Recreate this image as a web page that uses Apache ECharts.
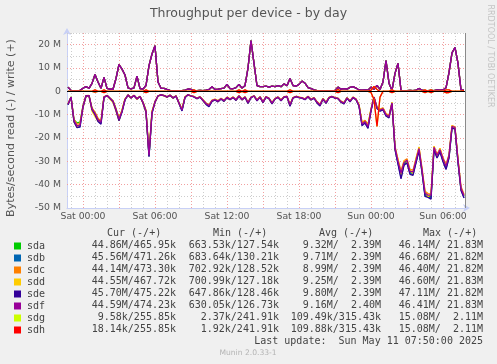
<!DOCTYPE html>
<html><head><meta charset="utf-8">
<script src="https://cdn.jsdelivr.net/npm/echarts@6/dist/echarts.min.js"></script>
<style>html,body{margin:0;padding:0;background:#F0F0F0}#c{width:497px;height:364px}</style>
</head><body><div id="c"></div>
<script>
const disks = ['sda','sdb','sdc','sdd','sde','sdf','sdg','sdh'];
const colors = ['#00CC00','#0066B3','#FF8000','#FFCC00','#330099','#990099','#CCFF00','#FF0000'];
const xTickHours = [0,6,12,18,24,30];
const xTickLabels = ['Sat 00:00','Sat 06:00','Sat 12:00','Sat 18:00','Sun 00:00','Sun 06:00'];
const yTickStep = 10;

// sample times: hours relative to Sat 00:00, one sample every 15 minutes
const hours = [];
for (let i = 0; i < 133; i++) hours.push(-1.25 + 0.25 * i);

// read throughput (MB/s, negative) per disk
const sdaRead = [-5.6,-2.4,-12.2,-13.5,-13.2,-6.2,-2.0,-1.8,-7.3,-9.2,
-11.8,-12.9,-2.5,-1.8,-3.0,-4.1,-7.6,-11.7,-8.3,-3.4,
-1.6,-2.8,-1.8,-3.1,-2.2,-4.7,-8.3,-27.8,-8.8,-4.4,
-2.0,-1.5,-1.8,-2.4,-1.7,-2.8,-2.0,-4.9,-7.8,-2.5,
-1.5,-2.0,-2.3,-3.0,-2.4,-3.8,-5.1,-5.9,-4.0,-3.5,
-4.1,-3.2,-4.0,-2.6,-3.4,-2.5,-3.6,-2.0,-3.4,-2.4,
-4.7,-2.6,-2.0,-3.7,-2.4,-4.5,-2.4,-3.0,-4.9,-3.2,
-2.5,-3.7,-2.4,-2.2,-5.7,-2.8,-2.2,-2.6,-2.8,-3.3,
-2.2,-3.5,-2.8,-4.5,-5.7,-3.2,-4.7,-2.7,-2.2,-2.8,
-3.0,-4.3,-4.9,-2.8,-4.1,-2.6,-3.4,-5.9,-13.6,-12.6,
-14.5,-7.8,-2.5,-6.8,-7.8,-7.3,-9.8,-10.6,-4.9,-24.3,
-30.4,-35.8,-31.0,-30.0,-34.9,-35.1,-30.0,-24.9,-34.0,-44.2,
-45.0,-45.2,-24.4,-27.9,-25.4,-29.5,-32.5,-28.0,-15.3,-15.8,
-30.0,-42.0,-44.86];
const sdbRead = [-5.6,-2.5,-12.9,-15.3,-15.0,-6.7,-2.0,-1.8,-7.8,-9.9,
-12.7,-13.8,-2.6,-1.8,-3.1,-4.3,-8.1,-12.4,-8.8,-3.6,
-1.6,-2.9,-1.8,-3.3,-2.2,-5.0,-8.8,-27.8,-9.3,-4.6,
-2.0,-1.5,-1.8,-2.5,-1.7,-2.9,-2.0,-5.1,-8.3,-2.6,
-1.5,-2.0,-2.4,-3.1,-2.5,-4.0,-5.5,-6.4,-4.2,-3.7,
-4.4,-3.3,-4.2,-2.7,-3.5,-2.6,-3.8,-2.1,-3.6,-2.5,
-5.1,-2.7,-2.0,-4.0,-2.5,-4.8,-2.5,-3.1,-5.3,-3.3,
-2.6,-4.0,-2.5,-2.3,-6.2,-2.9,-2.3,-2.7,-2.9,-3.5,
-2.3,-3.7,-2.9,-4.9,-6.1,-3.3,-5.1,-2.8,-2.3,-2.9,
-3.1,-4.6,-5.3,-2.9,-4.4,-2.7,-3.5,-6.2,-14.5,-13.5,
-15.7,-8.3,-2.6,-7.3,-8.4,-7.9,-10.5,-11.2,-5.2,-24.8,
-30.9,-37.0,-31.4,-30.4,-35.3,-35.7,-30.4,-25.3,-34.5,-44.7,
-45.3,-45.9,-24.8,-28.3,-25.8,-29.9,-33.2,-28.4,-15.6,-16.1,
-30.3,-42.2,-45.56];
const sdcRead = [-5.3,-2.4,-12.0,-14.0,-13.8,-6.1,-1.9,-1.7,-7.1,-9.0,
-11.6,-12.6,-2.4,-1.7,-2.9,-4.0,-7.4,-11.4,-8.1,-3.3,
-1.5,-2.7,-1.7,-3.0,-2.1,-4.6,-8.1,-26.8,-8.6,-4.3,
-1.9,-1.4,-1.7,-2.3,-1.6,-2.7,-1.9,-4.8,-7.6,-2.4,
-1.4,-1.9,-2.2,-2.9,-2.3,-3.6,-5.0,-5.7,-3.8,-3.3,
-4.0,-3.0,-3.8,-2.5,-3.2,-2.4,-3.4,-1.9,-3.3,-2.3,
-4.6,-2.5,-1.9,-3.6,-2.3,-4.4,-2.3,-2.9,-4.8,-3.0,
-2.4,-3.6,-2.3,-2.1,-5.5,-2.7,-2.1,-2.5,-2.7,-3.2,
-2.1,-3.3,-2.7,-4.4,-5.5,-3.0,-4.6,-2.6,-2.1,-2.7,
-2.9,-4.2,-4.8,-2.7,-4.0,-2.5,-3.2,-5.7,-13.3,-12.4,
-14.2,-7.6,-2.4,-6.7,-7.6,-7.1,-9.5,-10.3,-4.8,-23.5,
-29.2,-34.0,-29.8,-28.9,-33.5,-33.8,-28.9,-24.0,-32.8,-42.8,
-43.8,-44.0,-23.5,-27.0,-24.5,-28.4,-31.4,-27.0,-14.7,-15.2,
-29.0,-40.8,-44.14];
const sddRead = [-5.2,-2.7,-13.0,-15.2,-14.0,-7.0,-2.2,-2.0,-8.5,-10.8,
-12.8,-13.0,-2.3,-1.9,-3.3,-4.8,-8.5,-12.6,-8.0,-3.2,
-1.7,-3.0,-1.7,-3.5,-2.1,-5.2,-9.0,-26.0,-8.5,-4.8,
-2.1,-1.6,-1.9,-2.6,-1.6,-3.0,-1.9,-5.3,-7.6,-2.3,
-1.6,-2.1,-2.2,-3.2,-2.3,-4.0,-5.6,-5.8,-4.3,-3.4,
-4.5,-3.1,-4.3,-2.5,-3.6,-2.4,-3.8,-2.1,-3.7,-2.3,
-5.1,-2.5,-2.1,-4.0,-2.3,-4.9,-2.3,-3.2,-5.3,-3.1,
-2.6,-4.0,-2.3,-2.3,-6.2,-2.7,-2.3,-2.5,-2.9,-3.3,
-2.3,-3.7,-2.7,-4.9,-6.1,-3.1,-5.1,-2.6,-2.3,-2.7,
-3.1,-4.6,-5.3,-2.7,-4.4,-2.5,-3.6,-5.6,-13.5,-13.6,
-14.6,-7.5,-2.6,-7.4,-7.6,-7.9,-9.6,-11.3,-4.7,-24.8,
-29.2,-35.8,-29.8,-30.4,-33.6,-35.3,-28.8,-23.8,-34.2,-42.8,
-45.2,-44.0,-23.5,-28.2,-24.4,-29.6,-31.5,-28.1,-14.6,-15.9,
-29.0,-42.0,-44.55];
const sdeRead = [-5.7,-2.5,-13.1,-15.6,-15.3,-6.8,-2.0,-1.8,-7.9,-10.0,
-12.9,-14.1,-2.6,-1.8,-3.1,-4.4,-8.2,-12.6,-8.9,-3.6,
-1.6,-2.9,-1.8,-3.3,-2.2,-5.0,-8.9,-28.0,-9.4,-4.7,
-2.0,-1.5,-1.8,-2.5,-1.7,-2.9,-2.0,-5.2,-8.4,-2.6,
-1.5,-2.0,-2.4,-3.2,-2.5,-4.0,-5.6,-6.6,-4.3,-3.7,
-4.5,-3.3,-4.3,-2.7,-3.6,-2.6,-3.9,-2.1,-3.7,-2.5,
-5.2,-2.7,-2.0,-4.1,-2.5,-4.9,-2.5,-3.1,-5.4,-3.3,
-2.6,-4.1,-2.5,-2.3,-6.4,-2.9,-2.3,-2.7,-2.9,-3.6,
-2.3,-3.7,-2.9,-5.0,-6.3,-3.3,-5.2,-2.8,-2.3,-2.9,
-3.1,-4.7,-5.4,-2.9,-4.5,-2.7,-3.6,-6.3,-14.7,-13.6,
-15.9,-8.4,-2.6,-7.4,-8.5,-8.0,-10.6,-11.4,-5.2,-25.0,
-31.2,-37.5,-31.7,-30.7,-35.6,-36.0,-30.7,-25.5,-34.8,-45.0,
-45.5,-46.2,-25.0,-28.6,-26.0,-30.2,-33.5,-28.6,-15.7,-16.2,
-30.5,-42.5,-45.70];
const sdfRead = [-5.5,-2.5,-12.5,-14.8,-14.5,-6.5,-2.0,-1.8,-7.5,-9.5,
-12.2,-13.2,-2.5,-1.8,-3.0,-4.2,-7.8,-12.0,-8.5,-3.5,
-1.6,-2.8,-1.8,-3.2,-2.2,-4.8,-8.5,-27.5,-9.0,-4.5,
-2.0,-1.5,-1.8,-2.4,-1.7,-2.8,-2.0,-5.0,-8.0,-2.5,
-1.5,-2.0,-2.3,-3.0,-2.4,-3.8,-5.2,-6.0,-4.0,-3.5,
-4.2,-3.2,-4.0,-2.6,-3.4,-2.5,-3.6,-2.0,-3.5,-2.4,
-4.8,-2.6,-2.0,-3.8,-2.4,-4.6,-2.4,-3.0,-5.0,-3.2,
-2.5,-3.8,-2.4,-2.2,-5.8,-2.8,-2.2,-2.6,-2.8,-3.4,
-2.2,-3.5,-2.8,-4.6,-5.8,-3.2,-4.8,-2.7,-2.2,-2.8,
-3.0,-4.4,-5.0,-2.8,-4.2,-2.6,-3.4,-6.0,-14.0,-13.0,
-15.0,-8.0,-2.5,-7.0,-8.0,-7.5,-10.0,-10.8,-5.0,-24.0,
-30.0,-35.0,-30.5,-29.5,-34.3,-34.5,-29.5,-24.5,-33.5,-43.6,
-44.5,-44.5,-24.0,-27.5,-25.0,-29.0,-32.0,-27.5,-15.0,-15.5,
-29.5,-41.5,-44.59];
const sdgRead = [0,0,0,0,0,0,0,0,0,-0.3,
0,0,-0.6,0,0,0,0,0,0,0,
0,0,0,0,0,0,-0.6,0,0,0,
0,0,0,0,0,0,0,0,0,0,
0,0,-0.6,0,0,0,0,0,0,0,
0,0,0,0,0,0,0,-0.6,0,-0.6,
0,0,0,0,0,0,0,0,0,0,
0,0,0,0,-0.6,0,0,0,0,0,
0,0,0,0,0,0,0,0,0,0,
-0.6,0,0,0,0,0,0,0,0,0,
0,-0.5,-3.5,-15.0,-2.5,0,0,0,-0.6,0,
0,0,0,0,0,0,0,0,0,-0.6,
0,-0.6,0,0,0,0,-0.6,-0.5,0,0,
0,0,-0.01];
const sdhRead = [0,0,0,0,0,0,0,0,0,-0.3,
0,0,-0.6,0,0,0,0,0,0,0,
0,0,0,0,0,0,-0.6,0,0,0,
0,0,0,0,0,0,0,0,0,0,
0,0,-0.6,0,0,0,0,0,0,0,
0,0,0,0,0,0,0,-0.6,0,-0.6,
0,0,0,0,0,0,0,0,0,0,
0,0,0,0,-0.6,0,0,0,0,0,
0,0,0,0,0,0,0,0,0,0,
-0.6,0,0,0,0,0,0,0,0,0,
0,-0.5,-3.5,-15.0,-2.5,0,0,0,-0.6,0,
0,0,0,0,0,0,0,0,0,-0.6,
0,-0.6,0,0,0,0,-0.6,-0.5,0,0,
0,0,-0.02];

// write throughput (MB/s, positive); sda..sdf overlap within a pixel
const diskWrite = [1.8,0.4,0.3,0.3,0.4,1.3,2.0,1.3,3.4,7.2,
4.0,1.3,6.0,1.3,0.9,0.9,5.5,11.5,9.5,7.0,
1.5,1.0,1.5,6.5,1.2,1.0,2.5,11.0,16.0,19.5,
4.0,1.3,1.3,0.8,0.4,0.3,0.3,0.3,0.3,0.5,
1.0,0.8,0.4,0.3,0.4,0.3,0.5,0.8,2.0,0.8,
0.9,1.2,1.4,3.0,1.2,1.1,1.6,3.0,1.4,2.4,
10.0,21.8,12.0,2.4,2.0,2.0,2.2,1.8,2.2,2.0,
2.4,2.0,3.2,2.4,5.5,2.5,2.2,3.0,4.4,3.5,
1.6,1.2,0.6,0.3,0.3,0.3,0.3,0.3,0.3,0.4,
1.8,0.9,1.2,0.9,1.7,2.0,1.4,0.6,0.5,0.6,
0.5,1.8,0.8,2.6,0.8,4.0,13.2,3.5,0.4,7.7,
12.0,0.4,0.3,0.3,0.4,0.3,0.5,1.2,0.5,0.3,
0.3,0.4,0.3,0.6,0.5,0.6,1.5,8.0,16.5,18.8,
12.0,0.6,0.47];
const sdgWrite = [0,0,0,0,0,0,0,0,0,0.6,
0,0,0.6,0,0,0,0,0,0,0,
0,0,0,0,0,0,0.6,0,0,0,
0,0,0,0,0,0,0,0,0,0,
0,0,0.6,0,0,0,0,0,0,0,
0,0,0,0,0,0,0,0.6,0,0.6,
0,0,0,0,0,0,0,0,0,0,
0,0,0,0,0.7,0,0,0,0,0,
0,0,0,0,0,0,0,0,0,0,
0.8,0,0,0,0,0,0,0,0,0,
0,0.5,2.1,0.8,0,0,0,0,0.7,0,
0,0,0,0,0,0,0,0,0,0.6,
0,0.6,0,0,0,0,0.6,0.6,0,0,
0,0,0.26];
const sdhWrite = [0,0,0,0,0,0,0,0,0,0.6,
0,0,0.6,0,0,0,0,0,0,0,
0,0,0,0,0,0,0.6,0,0,0,
0,0,0,0,0,0,0,0,0,0,
0,0,0.6,0,0,0,0,0,0,0,
0,0,0,0,0,0,0,0.6,0,0.6,
0,0,0,0,0,0,0,0,0,0,
0,0,0,0,0.7,0,0,0,0,0,
0,0,0,0,0,0,0,0,0,0,
0.8,0,0,0,0,0,0,0,0,0,
0,0.5,2.1,0.8,0,0,0,0,0.7,0,
0,0,0,0,0,0,0,0,0,0.6,
0,0.6,0,0,0,0,0.6,0.6,0,0,
0,0,0.26];

// legend statistics
const statHeaders = ['Cur (-/+)','Min (-/+)','Avg (-/+)','Max (-/+)'];
const curCol = ['44.86M/465.95k','45.56M/471.26k','44.14M/473.30k','44.55M/467.72k','45.70M/475.22k','44.59M/474.23k','9.58k/255.85k','18.14k/255.85k'];
const minCol = ['663.53k/127.54k','683.64k/130.21k','702.92k/128.52k','700.99k/127.18k','647.86k/128.46k','630.05k/126.73k','2.37k/241.91k','1.92k/241.91k'];
const avgCol = ['9.32M/  2.39M','9.71M/  2.39M','8.99M/  2.39M','9.25M/  2.39M','9.80M/  2.39M','9.16M/  2.40M','109.49k/315.43k','109.88k/315.43k'];
const maxCol = ['46.14M/ 21.83M','46.68M/ 21.82M','46.40M/ 21.82M','46.60M/ 21.83M','47.11M/ 21.82M','46.41M/ 21.83M','15.08M/  2.11M','15.08M/  2.11M'];
const lastUpdate = 'Last update:  Sun May 11 07:50:00 2025';

const reads = [sdaRead,sdbRead,sdcRead,sddRead,sdeRead,sdfRead,sdgRead,sdhRead];
const writes = [diskWrite,diskWrite,diskWrite,diskWrite,diskWrite,diskWrite,sdgWrite,sdhWrite];

const X_MIN = -4/3, X_MAX = 31 + 5/6;
const Y_MIN = -50, Y_MAX = 25;
const minorGrid = '#cdcdcd', majorGrid = '#f2a0a0';

const gridLines = [];
for (let h = -1; h <= 31; h++) {
  gridLines.push({xAxis: h, lineStyle: {color: (h % 3 === 0) ? majorGrid : minorGrid, type: [1, 2], width: 1}});
}
for (let v = -45; v <= 25; v += 5) {
  if (v === 0) continue;
  gridLines.push({yAxis: v, lineStyle: {color: (v % 10 === 0) ? majorGrid : minorGrid, type: [1, 2], width: 1}});
}

const series = [];
disks.forEach((d, k) => {
  const base = {name: d, type: 'line', showSymbol: false, symbol: 'none', color: colors[k],
    lineStyle: {width: 1.3, color: colors[k]}, silent: true, animation: false, emphasis: {disabled: true}};
  series.push(Object.assign({}, base, {data: hours.map((h, i) => [h, reads[k][i]])}));
  series.push(Object.assign({}, base, {data: hours.map((h, i) => [h, writes[k][i]])}));
});
series[0].markLine = {silent: true, z: 1, symbol: ['none','none'], label: {show: false}, animation: false, data: gridLines};
series[series.length - 1].markLine = {silent: true, z: 10, symbol: ['none','none'], label: {show: false}, animation: false,
  data: [{yAxis: 0, lineStyle: {color: '#000', type: 'solid', width: 1}},
         {xAxis: X_MAX, lineStyle: {color: '#8a8a8a', type: 'solid', width: 1}}]};

const mono = '"DejaVu Sans Mono", monospace';
const textCol = '#444';
const graphics = [];
const colX = [176, 279, 381, 483];
const hdrX = [107, 213, 319, 423];
statHeaders.forEach((t, j) => graphics.push({type: 'text', x: hdrX[j], y: 233.5,
  style: {text: t, fill: textCol, font: '10px ' + mono, textAlign: 'left', textVerticalAlign: 'middle'}}));
[curCol, minCol, avgCol, maxCol].forEach((col, j) => {
  col.forEach((t, r) => graphics.push({type: 'text', x: colX[j], y: 245.7 + 12 * r,
    style: {text: t, fill: textCol, font: '10px ' + mono, textAlign: 'right', textVerticalAlign: 'middle'}}));
});
graphics.push({type: 'text', x: 483, y: 341.7, style: {text: lastUpdate, fill: textCol, font: '10px ' + mono, textAlign: 'right', textVerticalAlign: 'middle'}});
graphics.push({type: 'text', x: 248, y: 353.5, style: {text: 'Munin 2.0.33-1', fill: '#b4b4b4', font: '7.6px "DejaVu Sans"', textAlign: 'center', textVerticalAlign: 'middle'}});
graphics.push({type: 'text', x: 11, y: 128, rotation: Math.PI / 2, style: {text: 'Bytes/second read (-) / write (+)', fill: '#555', font: '11px "DejaVu Sans"', textAlign: 'center', textVerticalAlign: 'middle'}});
graphics.push({type: 'text', x: 490, y: 56, rotation: -Math.PI / 2, style: {text: 'RRDTOOL / TOBI OETIKER', fill: '#c4c4c4', font: '8px "DejaVu Sans"', textAlign: 'center', textVerticalAlign: 'middle'}});

const axisCol = '#c8d0f6';
const option = {
  backgroundColor: '#F0F0F0',
  animation: false,
  title: {text: 'Throughput per device - by day', left: 'center', top: 2,
    textStyle: {fontFamily: 'DejaVu Sans', fontSize: 12.5, fontWeight: 'normal', color: '#555'}},
  legend: {data: disks, orient: 'vertical', left: 14, top: 240, padding: 0, itemGap: 0, icon: 'rect',
    itemWidth: 7, itemHeight: 7, selectedMode: false,
    textStyle: {fontFamily: 'DejaVu Sans Mono', fontSize: 10, color: textCol, lineHeight: 12, padding: [0, 0, 0, 1]}},
  grid: {left: 67, right: 32, top: 33, bottom: 156, show: true, backgroundColor: '#fff', borderWidth: 0},
  xAxis: {type: 'value', min: X_MIN, max: X_MAX,
    axisLine: {onZero: false, lineStyle: {color: axisCol, width: 1}, symbol: ['none', 'arrow'], symbolSize: [6, 7], symbolOffset: [0, 5]},
    axisTick: {show: false}, splitLine: {show: false},
    axisLabel: {customValues: xTickHours, formatter: v => xTickLabels[xTickHours.indexOf(Math.round(v))] || '',
      fontFamily: 'DejaVu Sans', fontSize: 9.3, color: '#555', margin: 4}},
  yAxis: {type: 'value', min: Y_MIN, max: Y_MAX, interval: 5,
    axisLine: {show: true, onZero: false, lineStyle: {color: axisCol, width: 1}, symbol: ['none', 'arrow'], symbolSize: [6, 7], symbolOffset: [0, 5]},
    axisTick: {show: false}, splitLine: {show: false},
    axisLabel: {formatter: v => (v % yTickStep !== 0 || v === Y_MAX) ? '' : (v === 0 ? '0' : v + ' M'),
      fontFamily: 'DejaVu Sans', fontSize: 9.3, color: '#555', margin: 6}},
  graphic: graphics,
  series: series
};
const chart = echarts.init(document.getElementById('c'), null, {renderer: 'canvas', width: 497, height: 364});
chart.setOption(option);
</script></body></html>
